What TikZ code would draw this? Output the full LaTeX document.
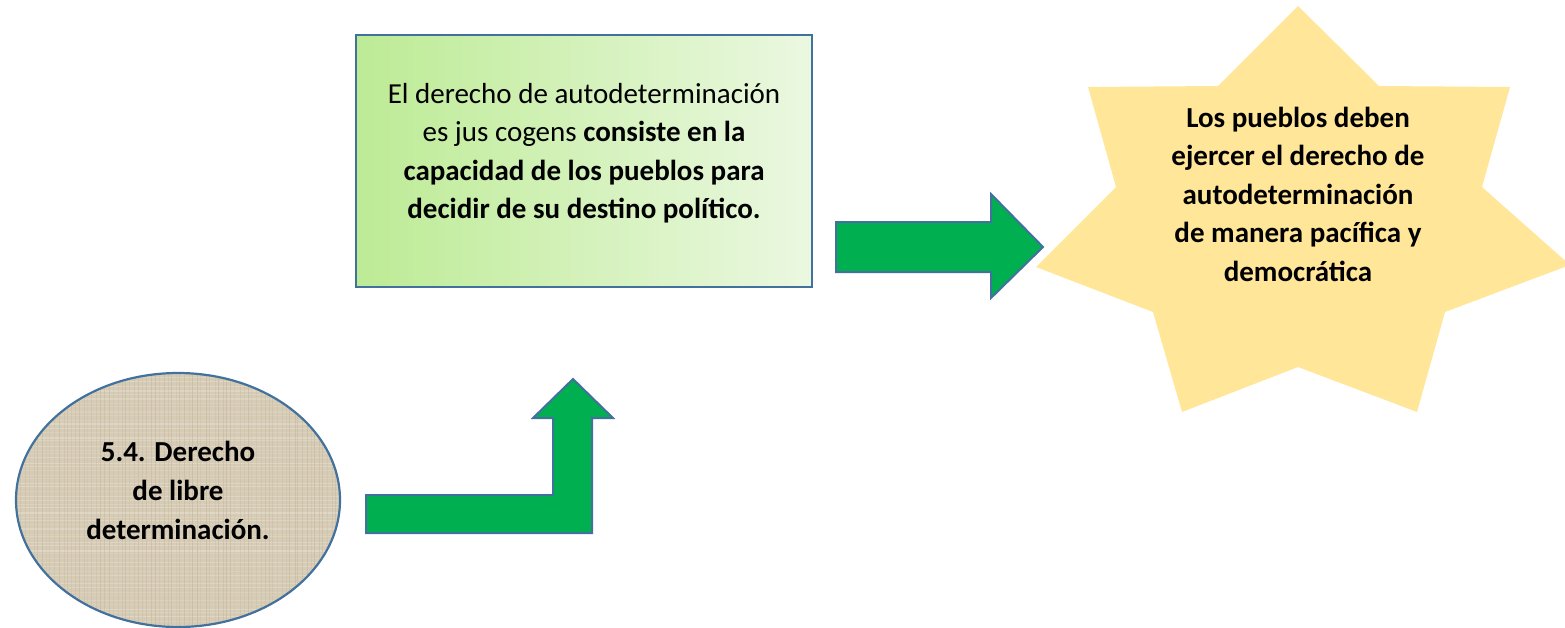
\documentclass[tikz,border=0pt]{standalone}
\usepackage{fontspec}
\setmainfont{Carlito}
\usetikzlibrary{shapes.geometric}
\definecolor{ol}{HTML}{41719C}
\definecolor{grn}{HTML}{00B050}
\definecolor{tanfill}{HTML}{D6CBB5}
\definecolor{tanlight}{HTML}{E6DED0}
\definecolor{tandark}{HTML}{C4B79C}
\definecolor{starfill}{HTML}{FFE699}
\definecolor{gl}{HTML}{BDEB95}
\definecolor{gr}{HTML}{EBF8E1}
\begin{document}
\begin{tikzpicture}[x=1pt,y=-1pt,
  txt/.style={font=\fontsize{29}{38.5}\selectfont, align=center, inner sep=0pt},
  outl/.style={draw=ol, line width=2.2pt},
  blockarrow/.style={draw=ol, line width=2pt, fill=grn, line join=miter}]
\useasboundingbox (0,0) rectangle (1565,627);
\clip (0,0) rectangle (1565,627);
% green box
\node[outl, left color=gl, right color=gr, minimum width=456pt, minimum height=252pt, inner sep=0pt] (box) at (584,161) {};
\node[txt] (boxtxt) at (584,153) {El derecho de autodeterminación\\es jus cogens \textbf{consiste en la}\\\textbf{capacidad de los pueblos para}\\\textbf{decidir de su destino político.}};
% ellipse with canvas texture
\node[ellipse, fill=tanfill, minimum width=324pt, minimum height=254pt, inner sep=0pt] (ell) at (178,500) {};
\begin{scope}
  \clip (178,500) ellipse [x radius=162pt, y radius=127pt];
  \pgfmathsetseed{7}
  \foreach \i in {0,...,60} {
    \pgfmathsetmacro{\yy}{373+\i*4.2+rnd*2}
    \pgfmathsetmacro{\op}{0.25+0.45*rnd}
    \draw[tanlight, line width=1.2pt, opacity=\op] (16,\yy) -- (340,\yy);
  }
  \foreach \i in {0,...,78} {
    \pgfmathsetmacro{\xx}{16+\i*4.2+rnd*2}
    \pgfmathsetmacro{\op}{0.2+0.4*rnd}
    \draw[tandark, line width=0.8pt, opacity=\op] (\xx,373) -- (\xx,627);
  }
\end{scope}
\draw[outl] (178,500) ellipse [x radius=162pt, y radius=127pt];
\node[txt, font=\fontsize{29}{39}\selectfont\bfseries] (elltxt) at (178,490) {5.4. Derecho\\de libre\\determinación.};
% bent arrow
\draw[blockarrow] (366,495) -- (553,495) -- (553,418) -- (533,418) -- (573,379) -- (613,418) -- (592,418) -- (592,533) -- (366,533) -- cycle;
% right arrow
\draw[blockarrow] (836,222) -- (991,222) -- (991,194) -- (1043,247) -- (991,298) -- (991,272) -- (836,272) -- cycle;
% star
\fill[starfill] (1298,6) -- (1379,86) -- (1510,87) -- (1482,187) -- (1570,265) -- (1445,312) -- (1417,412) -- (1298,367) -- (1182,412) -- (1153,312) -- (1036,267) -- (1116,187) -- (1088,87) -- (1218,86) -- cycle;
\node[txt, font=\fontsize{29}{38.5}\selectfont\bfseries] (startxt) at (1298,194) {Los pueblos deben\\ejercer el derecho de\\autodeterminación\\de manera pacífica y\\democrática};
\end{tikzpicture}
\end{document}
